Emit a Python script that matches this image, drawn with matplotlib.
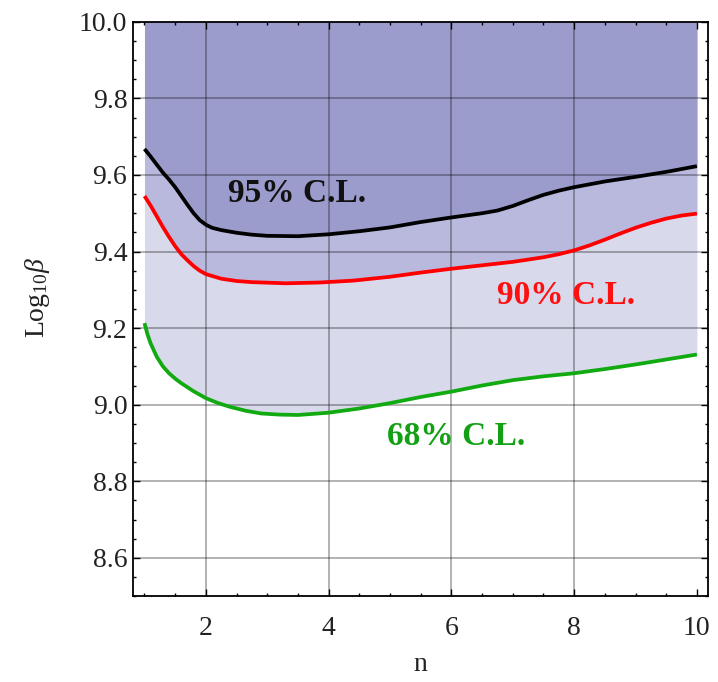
import matplotlib
matplotlib.use("Agg")
import matplotlib.pyplot as plt
from matplotlib.ticker import MultipleLocator

# values
n_95 = [1.0, 1.1, 1.2, 1.3, 1.4, 1.5, 1.6, 1.7, 1.8, 1.9, 2.0, 2.1, 2.25, 2.5,
        2.75, 3.0, 3.5, 4.0, 4.5, 5.0, 5.5, 6.0, 6.5, 6.75, 7.0, 7.25, 7.5,
        7.75, 8.0, 8.5, 9.0, 9.5, 10.0]
cl_95 = [9.668, 9.648, 9.627, 9.606, 9.588, 9.568, 9.545, 9.522, 9.500, 9.482,
         9.470, 9.462, 9.456, 9.449, 9.444, 9.441, 9.440, 9.445, 9.453, 9.463,
         9.477, 9.489, 9.500, 9.507, 9.519, 9.534, 9.548, 9.559, 9.568, 9.583,
         9.595, 9.608, 9.623]

n_90 = [1.0, 1.1, 1.2, 1.3, 1.4, 1.5, 1.6, 1.7, 1.8, 1.9, 2.0, 2.25, 2.5, 2.75,
        3.3, 3.85, 4.4, 5.0, 5.5, 6.0, 6.5, 7.0, 7.5, 7.75, 8.0, 8.25, 8.5,
        8.75, 9.0, 9.25, 9.5, 9.75, 10.0]
cl_90 = [9.545, 9.520, 9.492, 9.464, 9.438, 9.414, 9.393, 9.377, 9.362, 9.350,
         9.341, 9.329, 9.323, 9.320, 9.317, 9.319, 9.324, 9.334, 9.345, 9.355,
         9.364, 9.373, 9.385, 9.393, 9.403, 9.416, 9.431, 9.447, 9.462, 9.475,
         9.486, 9.494, 9.499]

n_68 = [1.0, 1.05, 1.1, 1.2, 1.3, 1.4, 1.5, 1.6, 1.8, 2.0, 2.2, 2.4, 2.65, 2.9,
        3.2, 3.5, 4.0, 4.5, 5.0, 5.5, 6.0, 6.5, 7.0, 7.5, 8.0, 8.5, 9.0, 9.5,
        10.0]
cl_68 = [9.213, 9.183, 9.160, 9.125, 9.100, 9.082, 9.068, 9.056, 9.035, 9.017,
         9.004, 8.994, 8.984, 8.977, 8.974, 8.973, 8.979, 8.990, 9.004, 9.020,
         9.034, 9.050, 9.064, 9.074, 9.082, 9.093, 9.105, 9.118, 9.131]

labels = ["95% C.L.", "90% C.L.", "68% C.L."]
x_ticks = [2, 4, 6, 8, 10]
y_ticks = [8.6, 8.8, 9.0, 9.2, 9.4, 9.6, 9.8, 10.0]

plt.rcParams["font.family"] = ["Liberation Serif", "DejaVu Serif"]
plt.rcParams["mathtext.fontset"] = "custom"
plt.rcParams["mathtext.rm"] = "Liberation Serif"
plt.rcParams["mathtext.it"] = "Liberation Serif:italic"

fig = plt.figure(figsize=(7.18, 6.82), dpi=100)
ax = fig.add_axes([0.185, 0.126, 0.801, 0.842])

# shaded bands, each region stacked on the one below
ax.fill_between(n_68, cl_68, 10.2, color="#d9d9ec", lw=0, zorder=1)
ax.fill_between(n_90, cl_90, 10.2, color="#b9b9dd", lw=0, zorder=1.1)
ax.fill_between(n_95, cl_95, 10.2, color="#9c9ccc", lw=0, zorder=1.2)

line_kw = dict(lw=2.7, zorder=4, solid_capstyle="butt", solid_joinstyle="round")
ax.plot(n_95, cl_95, color="black", **line_kw)
ax.plot(n_90, cl_90, color="#ff0000", **line_kw)
ax.plot(n_68, cl_68, color="#11aa11", **line_kw)

lab_kw = dict(fontsize=24, fontweight="bold", ha="center", va="center", zorder=5)
ax.text(3.49, 9.552, labels[0], color="#111111", **lab_kw)
ax.text(7.87, 9.285, labels[1], color="#ff1010", **lab_kw)
ax.text(6.07, 8.916, labels[2], color="#14a014", **lab_kw)

ax.set_xlim(0.81, 10.18)
ax.set_ylim(8.5, 10.0)
ax.set_xticks(x_ticks)
ax.set_yticks(y_ticks)
ax.set_yticklabels([f"{v:.1f}" for v in y_ticks])
ax.xaxis.set_minor_locator(MultipleLocator(0.5))
ax.yaxis.set_minor_locator(MultipleLocator(0.05))

for v in x_ticks[:-1]:
    ax.axvline(v, color="black", alpha=0.38, lw=1.1, zorder=3)
for v in y_ticks[:-1]:
    ax.axhline(v, color="black", alpha=0.38, lw=1.1, zorder=3)

ax.tick_params(which="both", direction="in", top=True, right=True,
               labelsize=20, labelcolor="#222222", width=1.0)
ax.tick_params(which="major", length=5, pad=14)
ax.tick_params(axis="y", which="major", pad=4)
ax.tick_params(which="minor", length=2.5)
for sp in ax.spines.values():
    sp.set_linewidth(1.3)
    sp.set_zorder(6)

ax.set_xlabel("n", fontsize=20, color="#222222", va="center")
ax.xaxis.set_label_coords(0.5, -0.12)
ax.set_ylabel(r"Log$_{10}\beta$", fontsize=20, color="#222222")
ax.yaxis.set_label_coords(-0.141, 0.52)

fig.savefig("out.png", dpi=100)
